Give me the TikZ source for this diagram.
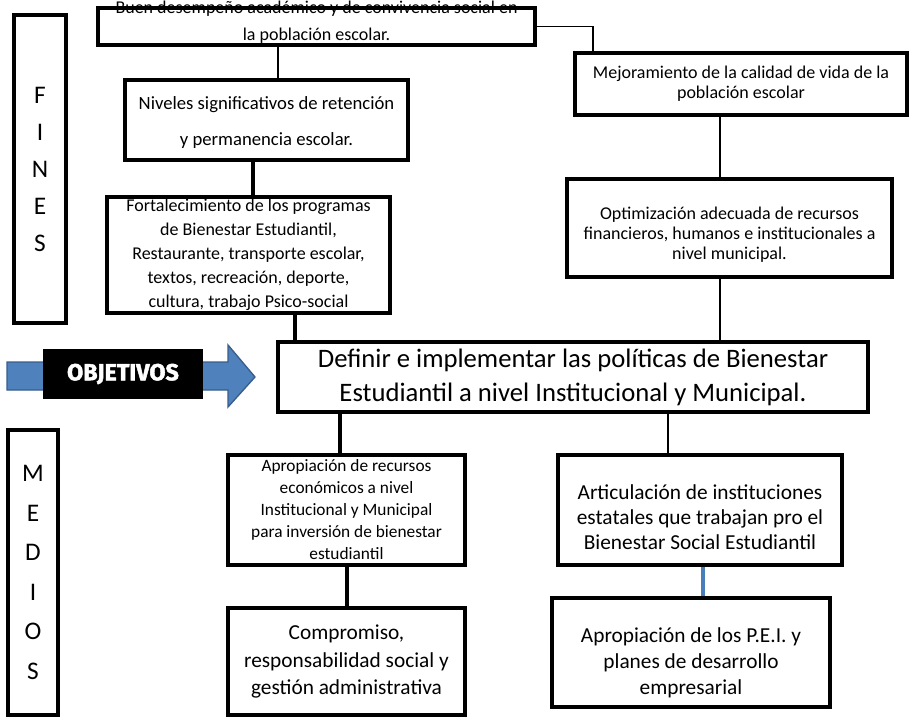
\documentclass[tikz,border=0pt]{standalone}
\usepackage{fontspec}
\setmainfont{Carlito}
\newfontfamily\objfont{Fira Sans}[BoldFeatures={FakeBold=2}]
\usepackage{tikz}
\usetikzlibrary{positioning}

\definecolor{azulFlecha}{HTML}{4F81BD}
\definecolor{bordeFlecha}{HTML}{385D8A}
\definecolor{azulLinea}{HTML}{4A7EBB}

\tikzset{
  caja/.style={draw, line width=2.8pt, align=center, inner sep=0pt},
  fino/.style={line width=0.8pt},
  grueso/.style={line width=2.5pt}
}

\begin{document}
\begin{tikzpicture}[x=0.75pt, y=-0.75pt]
      \useasboundingbox (0,0) rectangle (909,717);

      % columnas laterales
      \node[caja, minimum width=39pt, minimum height=231pt, font=\fontsize{19}{27.75}\selectfont] (fines) at (40,169) {F\\I\\N\\E\\S};
      \node[caja, minimum width=37.5pt, minimum height=213.75pt, font=\fontsize{19}{29.7}\selectfont] (medios) at (33,572.5) {M\\E\\D\\I\\O\\S};

      % fines
      \node[caja, minimum width=327.75pt, minimum height=27.75pt] (buen) at (316.5,26.5) {};
      \node[font=\fontsize{13.5}{20}\selectfont, align=center] (buenTxt) at (316.5,22) {Buen desempeño académico y de convivencia social en\\la población escolar.};
      \node[caja, minimum width=212.25pt, minimum height=60pt, font=\fontsize{14}{27}\selectfont] (niveles) at (266.5,120) {\rule{0pt}{14pt}Niveles significativos de retención\\y permanencia escolar.};
      \node[caja, minimum width=212.25pt, minimum height=87pt, font=\fontsize{13.5}{18}\selectfont] (fortal) at (248.5,255) {Fortalecimiento de los programas\\de Bienestar Estudiantil,\\Restaurante, transporte escolar,\\textos, recreación, deporte,\\cultura, trabajo Psico-social};
      \node[caja, minimum width=249pt, minimum height=46.5pt, font=\fontsize{13.5}{15}\selectfont] (mejora) at (741,84) {Mejoramiento de la calidad de vida de la\\población escolar};
      \node[caja, minimum width=243.75pt, minimum height=73.5pt, font=\fontsize{13.5}{15}\selectfont] (optim) at (729.5,228) {\rule{0pt}{19pt}Optimización adecuada de recursos\\financieros, humanos e institucionales a\\nivel municipal.};

      % objetivo
      \filldraw[fill=azulFlecha, draw=bordeFlecha, line width=1pt] (7,362) -- (228,362) -- (228,345) -- (255,377) -- (228,407) -- (228,390) -- (7,390) -- cycle;
      \node[fill=black, minimum width=120pt, minimum height=37.5pt, text=white, font=\objfont\bfseries\fontsize{17.5}{17.5}\selectfont] (objetivos) at (123,374) {OBJETIVOS};
      \node[caja, minimum width=442.5pt, minimum height=52.5pt, font=\fontsize{20}{25.5}\selectfont] (definir) at (573,377) {Definir e implementar las políticas de Bienestar\\Estudiantil a nivel Institucional y Municipal.};

      % medios
      \node[caja, minimum width=177.75pt, minimum height=82.5pt, font=\fontsize{13}{16.5}\selectfont] (aprop) at (346.5,510) {Apropiación de recursos\\económicos a nivel\\Institucional y Municipal\\para inversión de bienestar\\estudiantil};
      \node[caja, minimum width=177.75pt, minimum height=80.25pt, font=\fontsize{16}{20.6}\selectfont] (compro) at (346.5,661.5) {Compromiso,\\responsabilidad social y\\gestión administrativa};
      \node[caja, minimum width=213pt, minimum height=82.5pt, font=\fontsize{16}{18.75}\selectfont] (artic) at (700,510) {\rule{0pt}{22pt}Articulación de instituciones\\estatales que trabajan pro el\\Bienestar Social Estudiantil};
      \node[caja, minimum width=208.5pt, minimum height=81.75pt, font=\fontsize{16}{19.5}\selectfont] (pei) at (691,652.5) {\rule{0pt}{26pt}Apropiación de los P.E.I. y\\planes de desarrollo\\empresarial};

      % conexiones
      \draw[fino] (buen.south -| 278,0) -- (niveles.north -| 278,0);
      \draw[fino] (buen.east) -| (mejora.north -| 593,0);
      \draw[grueso] (niveles.south -| 253,0) -- (fortal.north -| 253,0);
      \draw[grueso] (fortal.south -| 295,0) -- (definir.north -| 295,0);
      \draw[fino] (mejora.south -| 720,0) -- (optim.north -| 720,0);
      \draw[fino] (optim.south -| 720,0) -- (definir.north -| 720,0);
      \draw[grueso] (definir.south -| 340,0) -- (aprop.north -| 340,0);
      \draw[fino] (definir.south -| 668,0) -- (artic.north -| 668,0);
      \draw[grueso] (aprop.south -| 347,0) -- (compro.north -| 347,0);
      \draw[line width=2.4pt, azulLinea] (artic.south -| 703,0) -- (pei.north -| 703,0);
    \end{tikzpicture}
\end{document}
